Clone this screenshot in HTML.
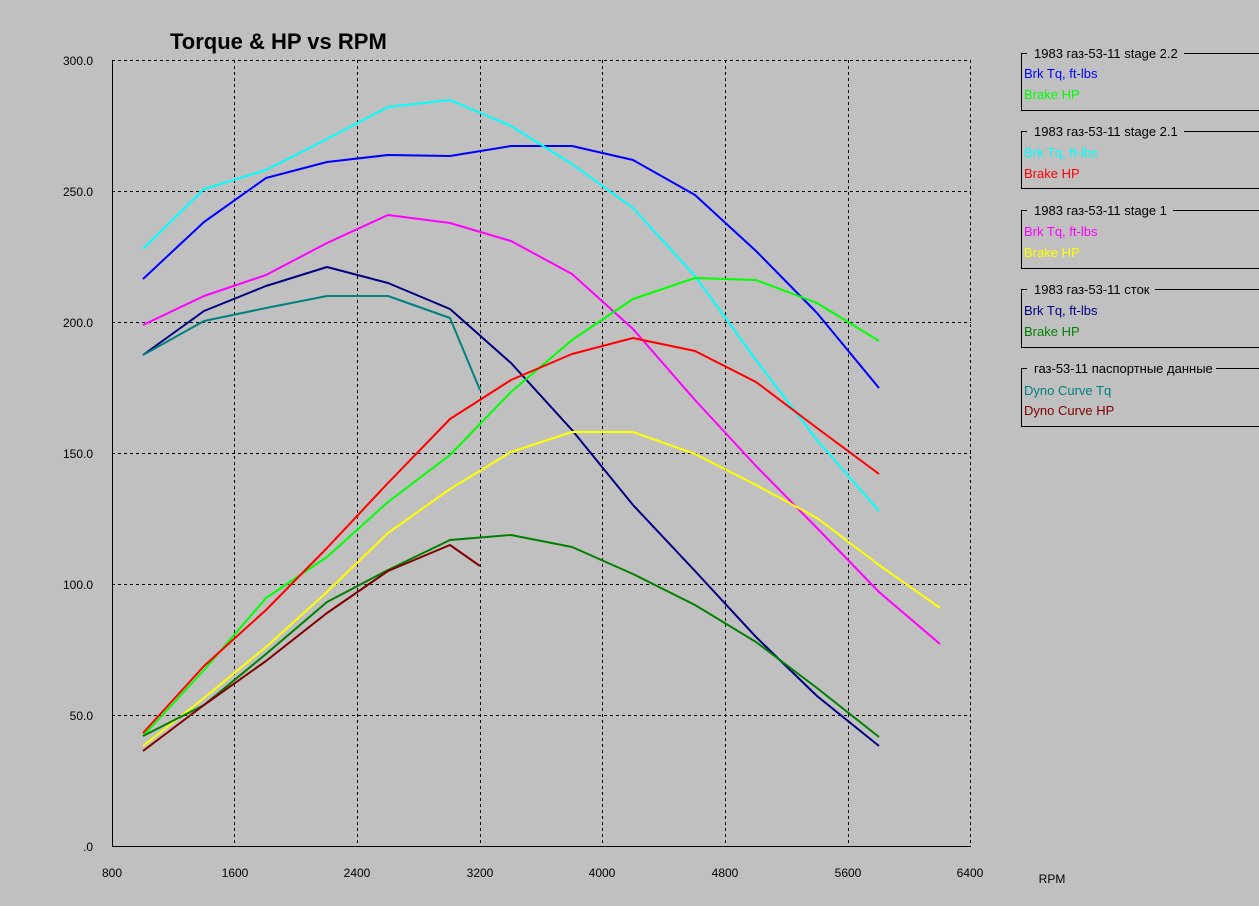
<!DOCTYPE html>
<html><head><meta charset="utf-8"><style>
body{margin:0;background:#c0c0c0;}
svg{display:block;font-family:"Liberation Sans","DejaVu Sans",sans-serif;}
</style></head><body>
<svg width="1259" height="906" viewBox="0 0 1259 906">
<rect width="1259" height="906" fill="#c0c0c0"/>
<text x="170" y="49" font-size="22" font-weight="bold">Torque &amp; HP vs RPM</text>
<g stroke="#000" stroke-width="1" stroke-dasharray="3,3" fill="none">
<line x1="112" y1="60.5" x2="971" y2="60.5"/>
<line x1="112" y1="191.5" x2="971" y2="191.5"/>
<line x1="112" y1="322.5" x2="971" y2="322.5"/>
<line x1="112" y1="453.5" x2="971" y2="453.5"/>
<line x1="112" y1="584.5" x2="971" y2="584.5"/>
<line x1="112" y1="715.5" x2="971" y2="715.5"/>
<line x1="234.5" y1="60" x2="234.5" y2="846"/>
<line x1="357.5" y1="60" x2="357.5" y2="846"/>
<line x1="480.5" y1="60" x2="480.5" y2="846"/>
<line x1="602.5" y1="60" x2="602.5" y2="846"/>
<line x1="725.5" y1="60" x2="725.5" y2="846"/>
<line x1="848.5" y1="60" x2="848.5" y2="846"/>
<line x1="970.5" y1="60" x2="970.5" y2="846"/>
</g>
<line x1="112.5" y1="60" x2="112.5" y2="846.5" stroke="#000"/>
<line x1="112" y1="846.5" x2="971" y2="846.5" stroke="#000"/>
<g font-size="12" text-anchor="end">
<text x="93" y="65">300.0</text><text x="93" y="196">250.0</text><text x="93" y="327">200.0</text>
<text x="93" y="458">150.0</text><text x="93" y="589">100.0</text><text x="93" y="720">50.0</text><text x="93" y="851">.0</text>
</g>
<g font-size="12" text-anchor="middle">
<text x="112" y="877">800</text><text x="235" y="877">1600</text><text x="357" y="877">2400</text><text x="480" y="877">3200</text>
<text x="602" y="877">4000</text><text x="725" y="877">4800</text><text x="848" y="877">5600</text><text x="970" y="877">6400</text>
<text x="1052" y="883">RPM</text>
</g>
<g fill="none" stroke-width="2" stroke-linejoin="round">
<polyline stroke="#0000ff" points="143,279 204,222 266,178 327,162 388,155 450,156 511,146 572,146 633,160 695,195 756,251 817,313 879,388"/>
<polyline stroke="#00ffff" points="143,249 204,189 266,170 327,139 388,107 450,100 511,126 572,164 633,208 695,276 756,360 817,440 879,511"/>
<polyline stroke="#ff00ff" points="143,325 204,296 266,275 327,243 388,215 450,223 511,241 572,274 633,329 695,400 756,466 817,528 879,592 940,644"/>
<polyline stroke="#000080" points="143,355 204,311 266,286 327,267 388,283 450,309 511,363 572,430 633,505 695,571 756,637 817,696 879,746"/>
<polyline stroke="#008080" points="143,355 204,321 266,308 327,296 388,296 450,318 480,390"/>
<polyline stroke="#00ff00" points="143,736 204,670 266,598 327,557 388,502 450,455 511,392 572,340 633,299 695,278 756,280 817,303 879,341"/>
<polyline stroke="#ff0000" points="143,733 204,666 266,610 327,548 388,483 450,419 511,380 572,354 633,338 695,351 756,382 817,428 879,474"/>
<polyline stroke="#ffff00" points="143,746 204,698 266,647 327,592 388,533 450,489 511,452 572,432 633,432 695,454 756,485 817,518 879,565 940,608"/>
<polyline stroke="#008000" points="143,736 204,705 266,654 327,602 388,570 450,540 511,535 572,547 633,574 695,605 756,642 817,688 879,737"/>
<polyline stroke="#800000" points="143,751 204,705 266,661 327,613 388,571 450,545 480,566"/>
</g>
<g fill="none" stroke="#000">
<path d="M1027,53.5 H1021.5 V110.5 H1259"/><line x1="1184" y1="53.5" x2="1259" y2="53.5"/>
<path d="M1027,131.5 H1021.5 V188.5 H1259"/><line x1="1184" y1="131.5" x2="1259" y2="131.5"/>
<path d="M1027,210.5 H1021.5 V268.5 H1259"/><line x1="1173" y1="210.5" x2="1259" y2="210.5"/>
<path d="M1027,289.5 H1021.5 V347.5 H1259"/><line x1="1155" y1="289.5" x2="1259" y2="289.5"/>
<path d="M1027,368.5 H1021.5 V426.5 H1259"/><line x1="1216" y1="368.5" x2="1259" y2="368.5"/>
</g>
<g font-size="13">
<text x="1034" y="58">1983 газ-53-11 stage 2.2</text>
<text x="1024" y="78" fill="#0000ff">Brk Tq, ft-lbs</text>
<text x="1024" y="99" fill="#00ff00">Brake HP</text>
<text x="1034" y="136">1983 газ-53-11 stage 2.1</text>
<text x="1024" y="157" fill="#00ffff">Brk Tq, ft-lbs</text>
<text x="1024" y="178" fill="#ff0000">Brake HP</text>
<text x="1034" y="215">1983 газ-53-11 stage 1</text>
<text x="1024" y="236" fill="#ff00ff">Brk Tq, ft-lbs</text>
<text x="1024" y="257" fill="#ffff00">Brake HP</text>
<text x="1034" y="294">1983 газ-53-11 сток</text>
<text x="1024" y="315" fill="#000080">Brk Tq, ft-lbs</text>
<text x="1024" y="336" fill="#008000">Brake HP</text>
<text x="1034" y="373">газ-53-11 паспортные данные</text>
<text x="1024" y="395" fill="#008080">Dyno Curve Tq</text>
<text x="1024" y="415" fill="#800000">Dyno Curve HP</text>
</g>
</svg>
</body></html>
